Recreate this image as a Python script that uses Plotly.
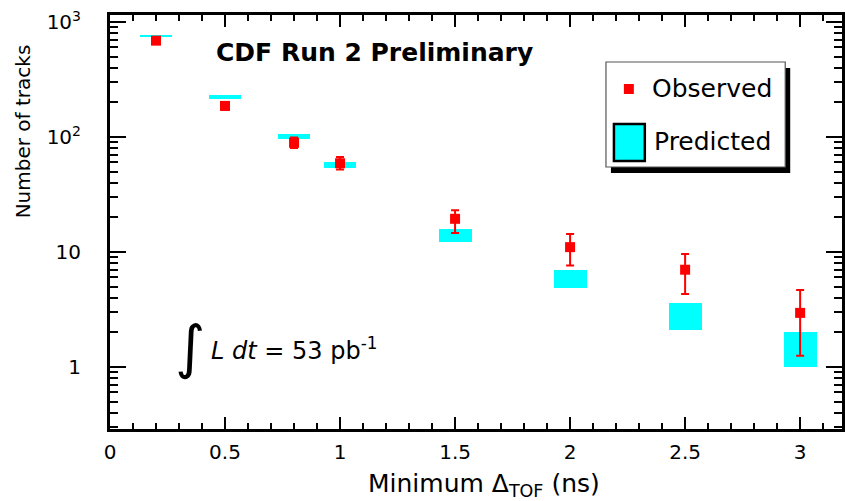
import numpy as np
import plotly.graph_objects as go

# Minimum time-of-flight cut (ns)
cut_ns = [0.2, 0.5, 0.8, 1.0, 1.5, 2.0, 2.5, 3.0]

# Observed track counts with asymmetric uncertainties
observed = [687, 186, 89, 59, 19.4, 11.0, 7.0, 2.95]
obs_err_up = [26, 14, 10, 8, 3.6, 3.3, 2.6, 1.72]
obs_err_down = [26, 14, 9, 7, 4.8, 3.4, 2.7, 1.70]

# Predicted band: lower and upper edge of each box
pred_low = [736, 214, 96, 54, 12.2, 4.9, 2.1, 1.0]
pred_high = [776, 232, 106, 61, 15.8, 7.0, 3.6, 2.0]

y_tick_vals = [1, 10, 100, 1000]
y_tick_text = ["1", "10", "10<sup>2</sup>", "10<sup>3</sup>"]
x_tick_vals = [0, 0.5, 1, 1.5, 2, 2.5, 3]
x_tick_text = ["0", "0.5", "1", "1.5", "2", "2.5", "3"]

FONT = "DejaVu Sans"
W, H = 845, 501
L, R, T, B = 110, 0, 15, 72
PW, PH = W - L - R, H - T - B


def px(xp):
    return (xp - L) / PW


def py(yp):
    return (H - B - yp) / PH


fig = go.Figure()

# predicted boxes (floating bars)
fig.add_trace(go.Bar(
    x=cut_ns,
    base=pred_low,
    y=[h - l for h, l in zip(pred_high, pred_low)],
    width=0.143,
    marker=dict(color="#00ffff", line=dict(width=0)),
    name="Predicted",
    showlegend=False,
))

# observed points
fig.add_trace(go.Scatter(
    x=cut_ns,
    y=observed,
    mode="markers",
    marker=dict(symbol="square", size=10, color="#ff0000"),
    error_y=dict(type="data", symmetric=False, array=obs_err_up,
                 arrayminus=obs_err_down, color="#ff0000", thickness=2,
                 width=4),
    name="Observed",
    showlegend=False,
))

shapes = []
annotations = []

# legend frame with drop shadow
shapes.append(dict(type="rect", xref="paper", yref="paper",
                   x0=px(613), x1=px(793), y0=py(173), y1=py(68),
                   fillcolor="black", line=dict(width=0), layer="above"))
shapes.append(dict(type="rect", xref="paper", yref="paper",
                   x0=px(608), x1=px(788), y0=py(167), y1=py(62),
                   fillcolor="white", line=dict(color="#555555", width=1.2),
                   layer="above"))
shapes.append(dict(type="rect", xref="paper", yref="paper",
                   x0=px(626), x1=px(636), y0=py(94), y1=py(84),
                   fillcolor="#ff0000", line=dict(width=0), layer="above"))
shapes.append(dict(type="rect", xref="paper", yref="paper",
                   x0=px(616), x1=px(647), y0=py(161), y1=py(124),
                   fillcolor="#00ffff", line=dict(color="black", width=2.5),
                   layer="above"))

annotations.append(dict(text="Observed", xref="paper", yref="paper",
                        x=px(652), y=py(88), xanchor="left", yanchor="middle",
                        showarrow=False, font=dict(family=FONT, size=25, color="black")))
annotations.append(dict(text="Predicted", xref="paper", yref="paper",
                        x=px(654), y=py(141), xanchor="left", yanchor="middle",
                        showarrow=False, font=dict(family=FONT, size=25, color="black")))

annotations.append(dict(text="<b>CDF Run 2 Preliminary</b>", xref="paper", yref="paper",
                        x=px(214), y=py(53), xanchor="left", yanchor="middle",
                        showarrow=False, font=dict(family=FONT, size=25, color="black")))

annotations.append(dict(text="∫", xref="paper", yref="paper",
                        x=px(190), y=py(347), xanchor="center", yanchor="middle",
                        showarrow=False, font=dict(family=FONT, size=58, color="black")))
annotations.append(dict(text="<i>L dt</i> = 53 pb<sup>-1</sup>", xref="paper", yref="paper",
                        x=px(209), y=py(349), xanchor="left", yanchor="middle",
                        showarrow=False, font=dict(family=FONT, size=24, color="black")))

annotations.append(dict(text="Minimum Δ<sub>TOF</sub> (ns)", xref="paper", yref="paper",
                        x=px(486), y=py(485), xanchor="center", yanchor="middle",
                        showarrow=False, font=dict(family=FONT, size=25, color="black")))
annotations.append(dict(text="Number of tracks", xref="paper", yref="paper",
                        x=px(23), y=py(131), xanchor="center", yanchor="middle",
                        textangle=-90, showarrow=False,
                        font=dict(family=FONT, size=20, color="black")))

fig.update_layout(
    width=W, height=H,
    margin=dict(l=L, r=R, t=T, b=B, pad=0),
    paper_bgcolor="white", plot_bgcolor="white",
    font=dict(family=FONT, size=20, color="black"),
    showlegend=False,
    bargap=0,
    shapes=shapes,
    annotations=annotations,
)

fig.update_xaxes(
    range=[0, 3.182],
    tickvals=x_tick_vals, ticktext=x_tick_text,
    ticks="inside", ticklen=12, tickwidth=2, tickcolor="black",
    minor=dict(ticks="inside", ticklen=6, tickwidth=2, tickcolor="black", dtick=0.1,
               showgrid=False),
    showline=True, linewidth=3, linecolor="black", mirror="allticks",
    showgrid=False, zeroline=False,
    ticklabelstandoff=3,
    tickfont=dict(family=FONT, size=20, color="black"),
)

fig.update_yaxes(
    type="log",
    range=[-0.54, 3.06],
    tickvals=y_tick_vals, ticktext=y_tick_text,
    ticks="inside", ticklen=16, tickwidth=2, tickcolor="black",
    minor=dict(ticks="inside", ticklen=8, tickwidth=2, tickcolor="black",
               dtick="D1", showgrid=False),
    showline=True, linewidth=3, linecolor="black", mirror="allticks",
    showgrid=False, zeroline=False,
    ticklabelstandoff=22,
    tickfont=dict(family=FONT, size=20, color="black"),
)

fig.write_html("out.html")
